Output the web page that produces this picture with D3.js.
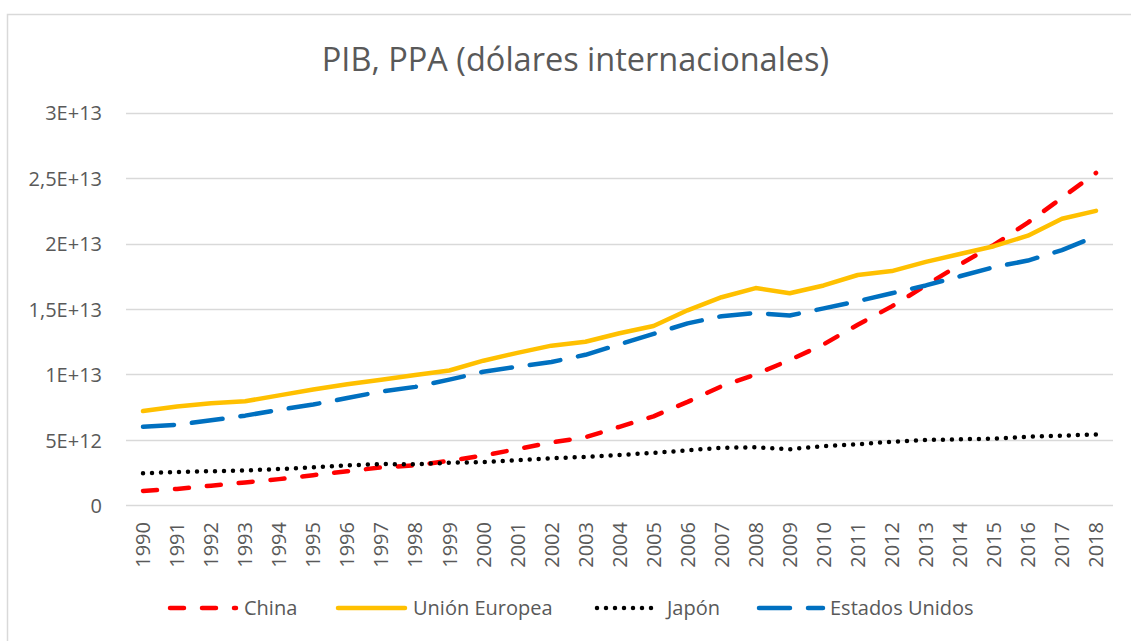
<!DOCTYPE html>
<html>
<head>
<meta charset="utf-8">
<script src="https://cdn.jsdelivr.net/npm/d3@7"></script>
<style>
  body { margin: 0; background: #fff; }
  text { font-family: "Open Sans", sans-serif; fill: #595959; }
</style>
</head>
<body>
<div id="chart"></div>
<script>
// Chart data (values in international dollars)
var years = d3.range(1990, 2019).map(String);

var china = [1.1, 1.25, 1.5, 1.75, 2.0, 2.3, 2.6, 2.9, 3.05, 3.4, 3.8, 4.3, 4.8, 5.2, 6.0, 6.8,
  7.9, 9.1, 10.0, 11.1, 12.3, 13.8, 15.2, 16.8, 18.4, 19.9, 21.6, 23.5, 25.4];
var eu = [7.2, 7.55, 7.8, 7.95, 8.4, 8.85, 9.25, 9.6, 9.95, 10.3, 11.05, 11.65, 12.2, 12.5, 13.15, 13.7,
  14.9, 15.9, 16.6, 16.2, 16.8, 17.6, 17.9, 18.6, 19.2, 19.8, 20.6, 21.9, 22.5];
var japan = [2.45, 2.55, 2.6, 2.67, 2.77, 2.9, 3.05, 3.15, 3.13, 3.25, 3.3, 3.45, 3.6, 3.7, 3.85, 4.0,
  4.2, 4.4, 4.43, 4.28, 4.53, 4.66, 4.86, 4.99, 5.04, 5.1, 5.24, 5.32, 5.42];
var usa = [6.0, 6.15, 6.5, 6.85, 7.3, 7.7, 8.2, 8.7, 9.05, 9.6, 10.2, 10.6, 10.95, 11.5, 12.3, 13.1,
  13.9, 14.45, 14.7, 14.5, 15.05, 15.6, 16.2, 16.8, 17.5, 18.2, 18.7, 19.5, 20.55];

var yTicks = [0, 5e12, 1e13, 1.5e13, 2e13, 2.5e13, 3e13];
var yTickLabels = ["0", "5E+12", "1E+13", "1,5E+13", "2E+13", "2,5E+13", "3E+13"];

var seriesNames = ["China", "Unión Europea", "Japón", "Estados Unidos"];

// Styles for each series
var series = [
  { name: seriesNames[0], values: china, color: "#FF0000", dash: "14,18" },
  { name: seriesNames[1], values: eu, color: "#FFC000", dash: null },
  { name: seriesNames[2], values: japan, color: "#000000", dash: "0,9" },
  { name: seriesNames[3], values: usa, color: "#0070C0", dash: "31,18" }
];

var svgWidth = 1131;
var svgHeight = 641;

var svg = d3.select("#chart")
  .append("svg")
  .attr("width", svgWidth)
  .attr("height", svgHeight);

// Chart border
svg.append("rect")
  .attr("x", 7.5)
  .attr("y", 14.5)
  .attr("width", 1140)
  .attr("height", 640)
  .attr("fill", "none")
  .attr("stroke", "#D9D9D9")
  .attr("stroke-width", 1.5);

// Title
svg.append("text")
  .attr("x", 575.5)
  .attr("y", 71)
  .attr("text-anchor", "middle")
  .style("font-size", "32.5px")
  .text("PIB, PPA (dólares internacionales)");

// Scales
var xScale = d3.scaleBand()
  .domain(years)
  .range([126, 1113]);

var yScale = d3.scaleLinear()
  .domain([0, 3e13])
  .range([505.3, 112.7]);

var xPos = d => xScale(d) + xScale.bandwidth() / 2;

// Gridlines
svg.append("g")
  .selectAll("line")
  .data(yTicks)
  .enter()
  .append("line")
  .attr("x1", 126)
  .attr("x2", 1113)
  .attr("y1", d => Math.round(yScale(d)) + 0.5)
  .attr("y2", d => Math.round(yScale(d)) + 0.5)
  .attr("stroke", "#D9D9D9")
  .attr("stroke-width", 1.5);

// Y axis labels
var leftAxis = d3.axisLeft(yScale)
  .tickValues(yTicks)
  .tickFormat((d, i) => yTickLabels[i])
  .tickSize(0)
  .tickPadding(0);

var yAxisG = svg.append("g")
  .attr("transform", "translate(102, 0)")
  .call(leftAxis);
yAxisG.select(".domain").remove();
yAxisG.selectAll("text")
  .attr("font-family", null)
  .style("font-size", "20px")
  .attr("dy", "0.36em");

// X axis labels (rotated)
var bottomAxis = d3.axisBottom(xScale)
  .tickSize(0)
  .tickPadding(0);

var xAxisG = svg.append("g")
  .attr("transform", "translate(0, 505)")
  .call(bottomAxis);
xAxisG.select(".domain").remove();
xAxisG.selectAll("text")
  .attr("font-family", null)
  .style("font-size", "20px")
  .attr("transform", "rotate(-90)")
  .attr("text-anchor", "end")
  .attr("x", -17)
  .attr("y", 0)
  .attr("dy", "0.36em");

// Lines
var line = d3.line()
  .x((d, i) => xPos(years[i]))
  .y(d => yScale(d * 1e12));

svg.append("g")
  .selectAll("path")
  .data(series)
  .enter()
  .append("path")
  .attr("d", d => line(d.values))
  .attr("fill", "none")
  .attr("stroke", d => d.color)
  .attr("stroke-width", 4.5)
  .attr("stroke-linecap", "round")
  .attr("stroke-linejoin", "round")
  .attr("stroke-dasharray", d => d.dash);

// Legend
var legendItems = [
  { x1: 170, x2: 236, tx: 244 },
  { x1: 338, x2: 405, tx: 413 },
  { x1: 597, x2: 660, tx: 667 },
  { x1: 759, x2: 823, tx: 830 }
];

var legend = svg.append("g")
  .selectAll("g")
  .data(series)
  .enter()
  .append("g");

legend.append("line")
  .attr("x1", (d, i) => legendItems[i].x1)
  .attr("x2", (d, i) => legendItems[i].x2)
  .attr("y1", 608)
  .attr("y2", 608)
  .attr("stroke", d => d.color)
  .attr("stroke-width", 4.5)
  .attr("stroke-linecap", "round")
  .attr("stroke-dasharray", d => d.dash);

legend.append("text")
  .attr("x", (d, i) => legendItems[i].tx)
  .attr("y", 608)
  .attr("dy", "0.36em")
  .style("font-size", "20px")
  .text(d => d.name);
</script>
</body>
</html>
